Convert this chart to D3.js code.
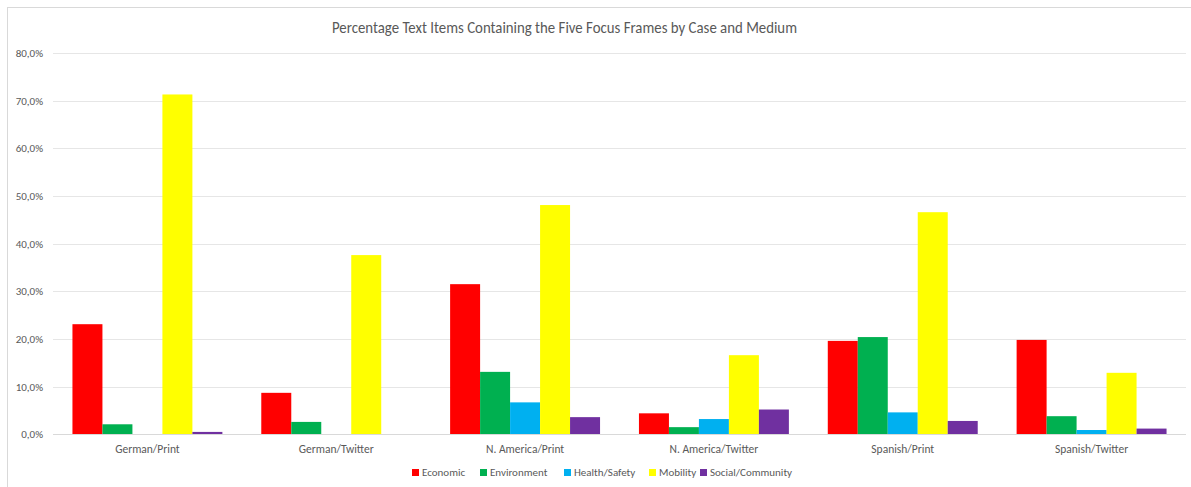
<!DOCTYPE html>
<html><head><meta charset="utf-8">
<script src="https://cdn.jsdelivr.net/npm/d3@7"></script>
<style>html,body{margin:0;padding:0;background:#fff}svg{display:block}</style>
</head><body>
<svg id="c" width="1191" height="487"></svg>
<script>
const title = "Percentage Text Items Containing the Five Focus Frames by Case and Medium";
const categories = ["German/Print","German/Twitter","N. America/Print","N. America/Twitter","Spanish/Print","Spanish/Twitter"];
const seriesNames = ["Economic","Environment","Health/Safety","Mobility","Social/Community"];
const seriesColors = ["#FF0000","#00B050","#00B0F0","#FFFF00","#7030A0"];
const economic    = [23.1, 8.7, 31.5, 4.4, 19.6, 19.8];
const environment = [2.1, 2.6, 13.1, 1.5, 20.4, 3.8];
const healthSafety= [0.0, 0.0, 6.7, 3.2, 4.6, 0.9];
const mobility    = [71.3, 37.6, 48.1, 16.6, 46.6, 12.9];
const social      = [0.5, 0.0, 3.6, 5.2, 2.8, 1.2];
const yTicks = [0,10,20,30,40,50,60,70,80];

const seriesValues = [economic, environment, healthSafety, mobility, social];
const font = "Carlito, 'Open Sans', 'Noto Sans', sans-serif";
const svg = d3.select("#c");
const W = 1191, H = 487;
const m = {left:53, right:1186, top:53, bottom:434.3};

svg.append("rect").attr("x",7.5).attr("y",7.5).attr("width",W).attr("height",H+10)
  .attr("fill","#fff").attr("stroke","#d9d9d9").attr("stroke-width",1);

const x0 = d3.scaleBand().domain(categories).range([m.left,m.right]).paddingInner(0.206).paddingOuter(0.103);
const x1 = d3.scaleBand().domain(seriesNames).range([0,x0.bandwidth()]);
const y = d3.scaleLinear().domain([0,80]).range([m.bottom,m.top]);

// gridlines
svg.append("g").selectAll("line").data(yTicks).join("line")
  .attr("x1",m.left).attr("x2",m.right)
  .attr("y1",d=>Math.round(y(d))+0.5).attr("y2",d=>Math.round(y(d))+0.5)
  .attr("stroke","#e6e6e6").attr("stroke-width",1);

// y axis labels
const yAxis = d3.axisLeft(y).tickValues(yTicks).tickSize(0).tickPadding(10)
  .tickFormat(d=>d.toFixed(1).replace(".",",")+"%");
const gy = svg.append("g").attr("transform",`translate(${m.left},0)`).call(yAxis);
gy.select(".domain").remove();
gy.selectAll("text").attr("fill","#595959").style("font-family",font).style("font-size","11px");

// bars
const g = svg.append("g");
categories.forEach((cat,ci)=>{
  seriesNames.forEach((s,si)=>{
    const v = seriesValues[si][ci];
    if (v<=0) return;
    g.append("rect")
      .attr("x",x0(cat)+x1(s)).attr("width",x1.bandwidth())
      .attr("y",y(v)).attr("height",y(0)-y(v))
      .attr("fill",seriesColors[si]);
  });
});

// x axis baseline
svg.append("line").attr("x1",m.left).attr("x2",m.right)
  .attr("y1",Math.round(y(0))+0.5).attr("y2",Math.round(y(0))+0.5)
  .attr("stroke","#d9d9d9");

const xAxis = d3.axisBottom(x0).tickSize(0).tickPadding(11);
const gx = svg.append("g").attr("transform",`translate(0,${y(0)})`).call(xAxis);
gx.select(".domain").remove();
gx.selectAll("text").attr("fill","#595959").style("font-family",font).style("font-size","11.5px");

// title
svg.append("text").attr("x",(332+797)/2).attr("y",33).attr("text-anchor","middle")
  .attr("fill","#595959").style("font-family",font).style("font-size","15.5px")
  .attr("textLength",465).attr("lengthAdjust","spacingAndGlyphs")
  .text(title);

// legend
const legendX = [412,480,564,649,700];
const lg = svg.append("g");
seriesNames.forEach((s,i)=>{
  lg.append("rect").attr("x",legendX[i]).attr("y",469).attr("width",7).attr("height",7).attr("fill",seriesColors[i]);
  lg.append("text").attr("x",legendX[i]+10).attr("y",476).attr("fill","#595959")
    .style("font-family",font).style("font-size","11px").text(s);
});
</script>
</body></html>
